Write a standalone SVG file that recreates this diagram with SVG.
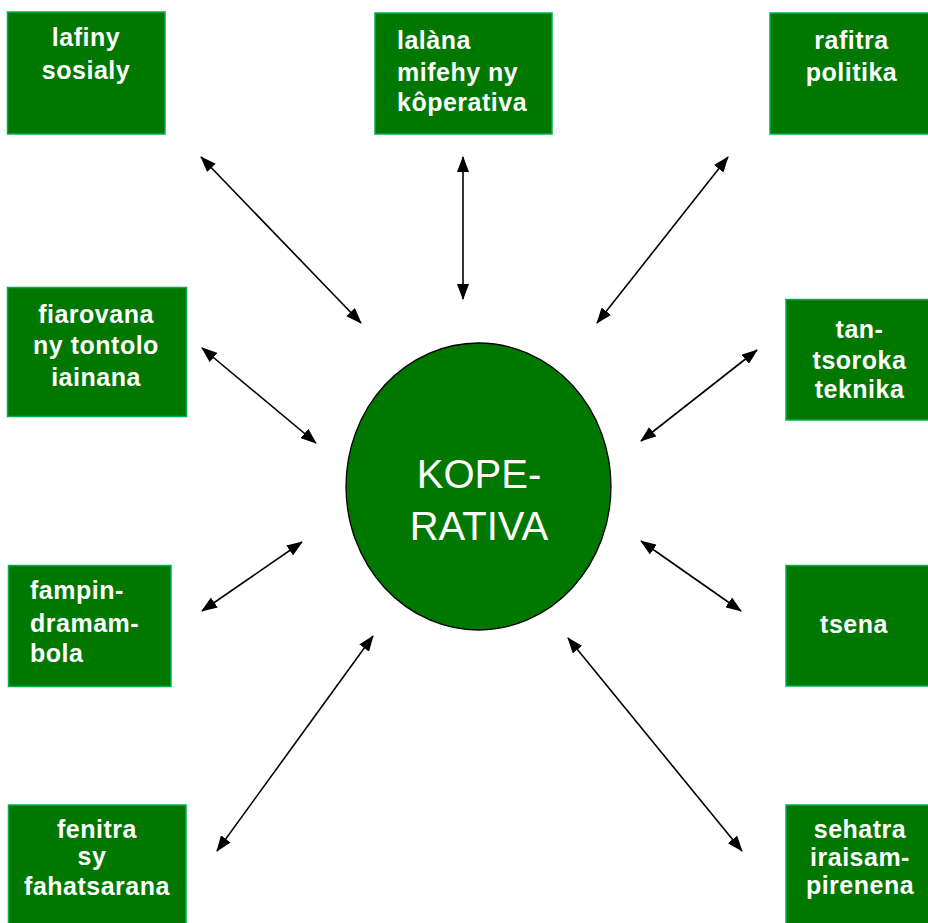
<svg xmlns="http://www.w3.org/2000/svg" width="928" height="923" viewBox="0 0 928 923">
<style>
.box{fill:#007800;stroke:#00B050;stroke-width:1.5}
.t{font-family:"Liberation Sans",Arial,sans-serif;font-weight:bold;font-size:25px;letter-spacing:0.5px;fill:#ffffff}
.c{text-anchor:middle}
.ct{font-family:"Liberation Sans",Arial,sans-serif;font-size:40px;fill:#ffffff;text-anchor:middle}
.a{stroke:#000;stroke-width:1.6;fill:none;marker-start:url(#h);marker-end:url(#h)}
</style>
<defs>
<marker id="h" viewBox="0 0 16 12" refX="15" refY="6" markerWidth="16" markerHeight="12" markerUnits="userSpaceOnUse" orient="auto-start-reverse">
<path d="M0,0 L16,6 L0,12 Z" fill="#000"/>
</marker>
</defs>
<g id="connectors">
<line class="a" x1="361" y1="323" x2="201" y2="157"/>
<line class="a" x1="463" y1="299" x2="463" y2="157"/>
<line class="a" x1="597" y1="323" x2="728" y2="157"/>
<line class="a" x1="316" y1="443" x2="202" y2="348"/>
<line class="a" x1="302" y1="542" x2="202" y2="611"/>
<line class="a" x1="373" y1="636" x2="217" y2="851"/>
<line class="a" x1="641" y1="441" x2="757" y2="350"/>
<line class="a" x1="641" y1="541" x2="741" y2="611"/>
<line class="a" x1="568" y1="638" x2="742" y2="851"/>
</g>
<g id="center">
<ellipse cx="478.5" cy="486.5" rx="132.5" ry="143.5" fill="#007800" stroke="#000" stroke-width="1.3"/>
<text class="ct" x="479" y="488">KOPE-</text>
<text class="ct" x="479" y="540">RATIVA</text>
</g>
<g id="n1">
<rect class="box" x="7.5" y="12" width="157.5" height="122"/>
<text class="t c" x="86" y="46">lafiny</text>
<text class="t c" x="86" y="79">sosialy</text>
</g>
<g id="n2">
<rect class="box" x="375" y="13" width="177" height="121"/>
<text class="t" x="397" y="49">lalàna</text>
<text class="t" x="397" y="81">mifehy ny</text>
<text class="t" x="397" y="111">kôperativa</text>
</g>
<g id="n3">
<rect class="box" x="770" y="13" width="162" height="121"/>
<text class="t c" x="851.5" y="49">rafitra</text>
<text class="t c" x="851.5" y="81">politika</text>
</g>
<g id="n4">
<rect class="box" x="7.5" y="287.5" width="179" height="129"/>
<text class="t c" x="96" y="323">fiarovana</text>
<text class="t c" x="96" y="354">ny tontolo</text>
<text class="t c" x="96" y="386">iainana</text>
</g>
<g id="n5">
<rect class="box" x="786" y="299.5" width="146" height="120.5"/>
<text class="t c" x="859.5" y="338">tan-</text>
<text class="t c" x="859.5" y="369">tsoroka</text>
<text class="t c" x="859.5" y="398">teknika</text>
</g>
<g id="n6">
<rect class="box" x="8.5" y="565.5" width="162.5" height="121"/>
<text class="t" x="30" y="599">fampin-</text>
<text class="t" x="30" y="632">dramam-</text>
<text class="t" x="30" y="662">bola</text>
</g>
<g id="n7">
<rect class="box" x="786" y="565.5" width="146" height="120.5"/>
<text class="t c" x="854" y="633">tsena</text>
</g>
<g id="n8">
<rect class="box" x="8.5" y="805" width="177.5" height="125"/>
<text class="t c" x="97" y="838">fenitra</text>
<text class="t c" x="92" y="865">sy</text>
<text class="t c" x="97" y="895">fahatsarana</text>
</g>
<g id="n9">
<rect class="box" x="786" y="805" width="146" height="125"/>
<text class="t c" x="860" y="838">sehatra</text>
<text class="t c" x="860" y="866">iraisam-</text>
<text class="t c" x="860" y="894">pirenena</text>
</g>
</svg>
